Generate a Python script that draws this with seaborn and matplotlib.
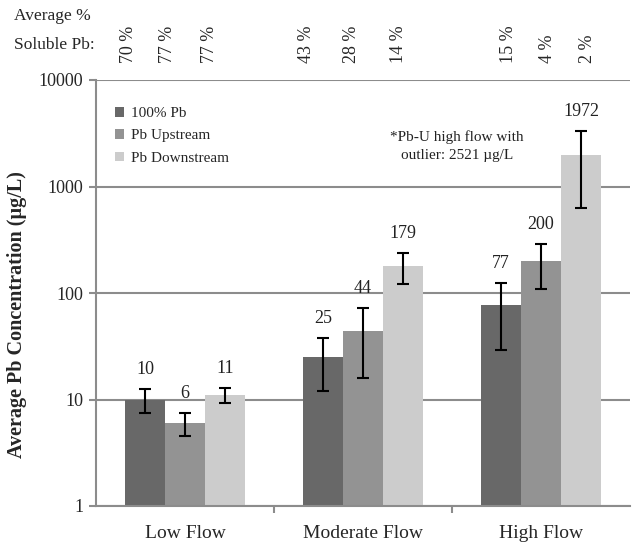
import numpy as np
import pandas as pd
import matplotlib
matplotlib.use("Agg")
import matplotlib.pyplot as plt
import matplotlib.transforms as mtransforms
import seaborn as sns

# ---------------- data ----------------
categories = ["Low Flow", "Moderate Flow", "High Flow"]
series = ["100% Pb", "Pb Upstream", "Pb Downstream"]
pb_100 = [10, 25, 77]
pb_up = [6, 44, 200]
pb_down = [11, 179, 1972]
err_100 = [2.5, 13, 48]
err_up = [1.5, 28, 90]
err_down = [1.7, 57, 1340]
soluble_labels = ["70 %", "77 %", "77 %", "43 %", "28 %", "14 %", "15 %", "4 %", "2 %"]
soluble_x = [-0.32, -0.096, 0.14, 0.685, 0.938, 1.197, 1.82, 2.039, 2.264]
y_ticks = [1, 10, 100, 1000, 10000]
y_tick_labels = ["1", "10", "100", "1000", "10000"]
colors = ["#686868", "#939393", "#cccccc"]

values = [pb_100, pb_up, pb_down]
errors = [err_100, err_up, err_down]

df = pd.DataFrame({
    "flow": [c for s in series for c in categories],
    "series": [s for s in series for c in categories],
    "value": [v for vals in values for v in vals],
})

# ---------------- style ----------------
sns.set_style("white")
plt.rcParams["font.family"] = ["Liberation Serif", "DejaVu Serif"]

W, H = 635, 544
fig = plt.figure(figsize=(W / 100, H / 100), dpi=100)
ax = fig.add_axes([96 / W, 1 - 506 / H, 534 / W, 426 / H])

sns.barplot(data=df, x="flow", y="value", hue="series", order=categories,
            hue_order=series, palette=colors, width=0.674, errorbar=None,
            linewidth=0, saturation=1, ax=ax)
ax.set_yscale("log")
ax.set_ylim(1, 10000)
ax.set_xlim(-0.5, 2.5)

# error bars and value labels from bar positions
for cont, errs in zip(ax.containers, errors):
    for bar, e in zip(cont, errs):
        xc = bar.get_x() + bar.get_width() / 2
        h = bar.get_height()
        ax.errorbar(xc, h, yerr=e, fmt="none", ecolor="black", elinewidth=1.5,
                    capsize=4.5, capthick=1.5, zorder=5)
        ax.annotate(f"{h:g}", (xc, h + e), xytext=(0, 8), textcoords="offset points",
                    ha="center", va="bottom", fontsize=13, color="#222222")

# grid / spines
ax.set_axisbelow(True)
ax.yaxis.grid(True, which="major", color="#8c8c8c", linewidth=1.5)
ax.xaxis.grid(False)
for s in ["top", "right"]:
    ax.spines[s].set_visible(False)
for s in ["left", "bottom"]:
    ax.spines[s].set_color("#8c8c8c")
    ax.spines[s].set_linewidth(1.5)

ax.set_yticks(y_ticks)
ax.set_yticklabels(y_tick_labels)
ax.yaxis.set_minor_locator(matplotlib.ticker.NullLocator())
ax.tick_params(axis="y", which="major", length=5, width=1.5, color="#8c8c8c",
               labelsize=13, pad=4, left=True)
ax.set_xticks([0, 1, 2])
ax.set_xticklabels(categories)
ax.set_xticks([0.5, 1.5], minor=True)
ax.tick_params(axis="x", which="major", length=0, labelsize=14, pad=14)
ax.tick_params(axis="x", which="minor", length=5, width=1.5, color="#8c8c8c", bottom=True)

ax.set_xlabel("")
ax.set_ylabel("Average Pb Concentration (µg/L)", fontsize=14.5, fontweight="bold")
ax.yaxis.set_label_coords(-0.13, 0.45)

# legend
handles, labels = ax.get_legend_handles_labels()
ax.legend(handles, labels, loc="upper left", bbox_to_anchor=(0.036, 0.937),
          frameon=False, fontsize=11, handlelength=0.6, handleheight=0.6,
          handletextpad=0.4, labelspacing=0.6, borderpad=0, borderaxespad=0)

# note
fig.text(457 / W, 1 - 137 / H, "*Pb-U high flow with", ha="center", va="center",
         fontsize=11, color="#222222")
fig.text(457 / W, 1 - 156 / H, "outlier: 2521 µg/L", ha="center", va="center",
         fontsize=11, color="#222222")

# top header
fig.text(14 / W, 1 - 16 / H, "Average %", ha="left", va="center", fontsize=12.5)
fig.text(14 / W, 1 - 45 / H, "Soluble Pb:", ha="left", va="center", fontsize=12.5)
trans = mtransforms.blended_transform_factory(ax.transData, fig.transFigure)
for xv, lab in zip(soluble_x, soluble_labels):
    ax.text(xv, 1 - 63 / H, lab, transform=trans, rotation=90, ha="center",
            va="bottom", fontsize=13, clip_on=False)

fig.savefig("out.png", dpi=100)
